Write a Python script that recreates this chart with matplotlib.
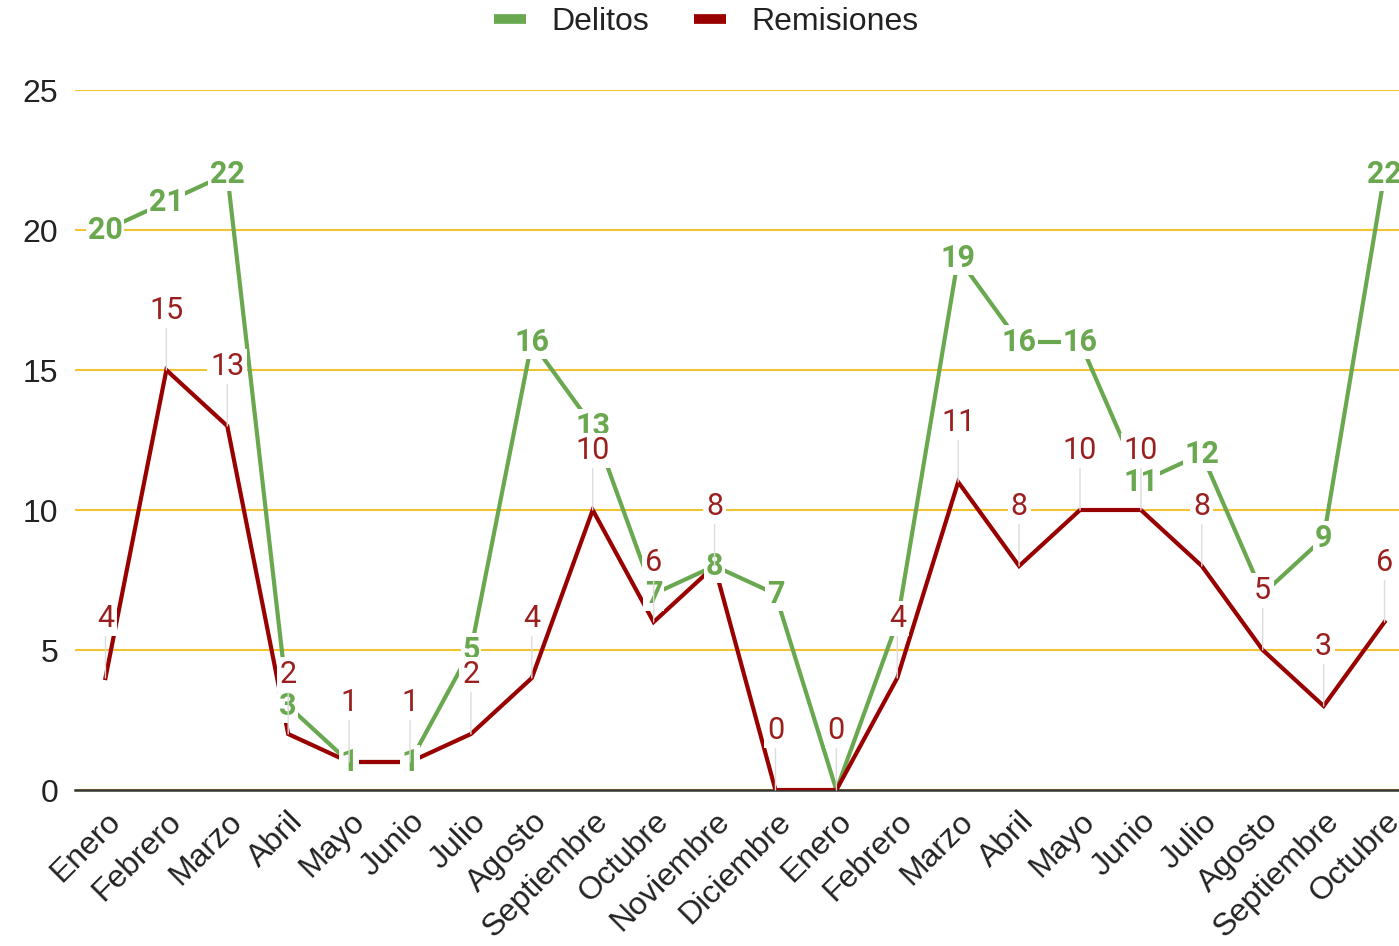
import matplotlib
matplotlib.use("Agg")
import matplotlib.pyplot as plt
from matplotlib.lines import Line2D

plt.rcParams['font.family'] = ['Liberation Sans', 'DejaVu Sans']

meses = ['Enero', 'Febrero', 'Marzo', 'Abril', 'Mayo', 'Junio', 'Julio', 'Agosto',
         'Septiembre', 'Octubre', 'Noviembre', 'Diciembre',
         'Enero', 'Febrero', 'Marzo', 'Abril', 'Mayo', 'Junio', 'Julio', 'Agosto',
         'Septiembre', 'Octubre']
delitos = [20, 21, 22, 3, 1, 1, 5, 16, 13, 7, 8, 7,
           0, 6, 19, 16, 16, 11, 12, 7, 9, 22]
remisiones = [4, 15, 13, 2, 1, 1, 2, 4, 10, 6, 8, 0,
              0, 4, 11, 8, 10, 10, 8, 5, 3, 6]
# etiquetas de Delitos que no se muestran (tapadas por las de Remisiones)
ocultas = [12, 13, 19]

verde = '#6aa84f'
rojo = '#990000'

fig = plt.figure(figsize=(13.99, 9.46), dpi=100)
ax = fig.add_axes([75 / 1399, 156 / 946, 1340 / 1399, 700 / 946])

x = range(len(meses))
ax.plot(x, delitos, color=verde, lw=3, zorder=3, solid_joinstyle='miter')
ax.plot(x, remisiones, color=rojo, lw=3, zorder=4, solid_joinstyle='miter')

# etiquetas de Delitos: centradas sobre el punto
for i, v in enumerate(delitos):
    if i in ocultas:
        continue
    ax.text(i, v, str(v), color=verde, fontsize=22, fontweight='bold',
            family=['Roboto', 'DejaVu Sans'],
            ha='center', va='center', zorder=5,
            bbox=dict(boxstyle='square,pad=0.05', fc='white', ec='none'))

# etiquetas de Remisiones: arriba del punto con linea guia
for i, v in enumerate(remisiones):
    ax.annotate(str(v), xy=(i, v), xytext=(0, 43), textcoords='offset points',
                color='#9a2020', fontsize=22, ha='center', va='center', zorder=6,
                family=['Roboto', 'DejaVu Sans'],
                bbox=dict(boxstyle='square,pad=0.1', fc='white', ec='none'),
                arrowprops=dict(arrowstyle='-', color='#dcdcdc', lw=1,
                                shrinkA=0, shrinkB=0))

ax.set_xlim(-0.5, len(meses) - 0.5)
ax.set_ylim(0, 25)
ax.set_yticks([0, 5, 10, 15, 20, 25])
ax.set_xticks(list(x))
ax.set_xticklabels(meses, rotation=45, ha='right', va='top', rotation_mode='anchor')
ax.tick_params(axis='both', length=0, labelsize=23, colors='#222222')
ax.tick_params(axis='y', pad=12)
ax.tick_params(axis='x', pad=12)

ax.grid(axis='y', color='#f1c232', lw=1.5)
ax.set_axisbelow(True)
for s in ['top', 'right', 'left']:
    ax.spines[s].set_visible(False)
ax.spines['bottom'].set_color('#333333')
ax.spines['bottom'].set_linewidth(1.8)
ax.spines['bottom'].set_zorder(2)

handles = [Line2D([], [], color=verde, lw=7, solid_capstyle='butt'),
           Line2D([], [], color=rojo, lw=7, solid_capstyle='butt')]
leg = fig.legend(handles, ['Delitos', 'Remisiones'], loc='center', bbox_to_anchor=(0.505, 0.977),
                 ncol=2, frameon=False, fontsize=23, handlelength=1.0, columnspacing=1.4,
                 handletextpad=0.8)
for t in leg.get_texts():
    t.set_color('#222222')

fig.savefig('out.png', dpi=100)
